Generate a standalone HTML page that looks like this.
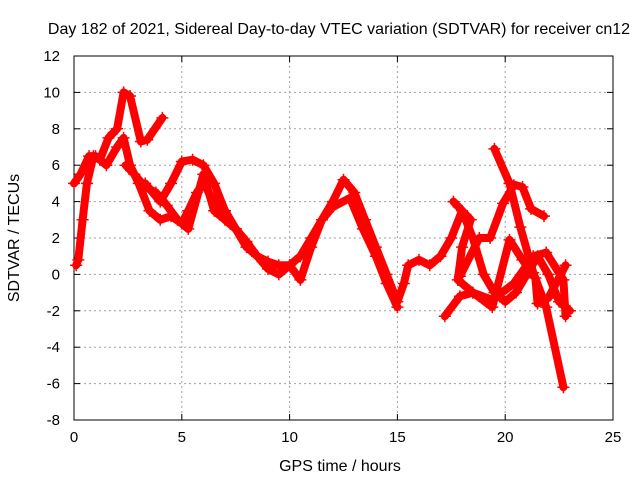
<!DOCTYPE html>
<html><head><meta charset="utf-8"><style>
body{margin:0;background:#fff;}
svg text{font-family:"Liberation Sans",sans-serif;font-size:15px;fill:#000;}
svg text.big{font-size:16px;}
</style></head><body>
<svg id="chart" width="640" height="480">
<rect width="640" height="480" fill="#fff"/>
<text class="big" x="339" y="34" text-anchor="middle">Day 182 of 2021, Sidereal Day-to-day VTEC variation (SDTVAR) for receiver cn12</text>
<text class="big" x="340" y="471" text-anchor="middle">GPS time / hours</text>
<text class="big" x="19" y="238" text-anchor="middle" transform="rotate(-90 19 238)">SDTVAR / TECUs</text>
<g id="grid"></g><g id="axes"></g><g id="series"></g>
</svg>
<script>
const xTicks=[0,5,10,15,20,25];
const yTicks=[-8,-6,-4,-2,0,2,4,6,8,10,12];
const t1=[0,0.3,0.7,1,1.5,2,2.3,2.6,3,3.5,4,4.5,5,5.3,5.7,6,6.5,7,7.5,8,8.5,9,9.5,10,10.5,11,11.5,12,12.5,13,13.5,14,14.5,15,15.3,15.5,16,16.5,17,17.5,18,18.5,19,19.5,20,20.5,21,21.5,22,22.5,23];
const v1=[5,5.5,6.5,6.5,6,7,7.5,6,5,3.5,3,3.2,2.8,3.5,4.5,5,4,3.5,2.5,1.8,1,0.7,0.5,0.5,1,2,3,4,5.2,4.5,3,1.5,0,-1.5,-0.5,0.5,0.8,0.5,1,2,3.5,2,0,-1,-1.5,-1,0,1,0,-1.5,-2];
const t2=[0.1,0.2,0.4,0.6,0.9,1.2,1.6,2.0,2.3,2.6,3.1,3.4,4.1];
const v2=[0.5,0.8,3,5,6.5,6.3,7.5,8,10,9.8,7.3,7.4,8.6];
const t3=[3.3,4,4.5,5,5.5,6,6.5,7,7.5,8,8.5,9,9.5,10,10.5,11,11.5,12,12.8,13.4,14,14.5,15];
const v3=[5,4,5,6.2,6.3,6,5,3.5,2.5,1.5,1,0.3,0,0.5,-0.3,1.5,3,3.7,4.2,2.5,1,-0.5,-1.8];
const t4=[2.4,2.8,3.3,3.8,4.3,4.8,5.3,6,6.5,7,7.5,8];
const v4=[6,5.5,4.8,4.5,3.8,3,2.5,5.5,3.5,3,2.5,1.8];
const t5=[17.2,17.9,18.5,19.4,20.4,21.3,21.9,22.7,22.8];
const v5=[-2.3,-1.2,-1,-1.4,-0.5,1,1.2,-0.3,-2.3];
const t6=[17.9,18.8,19.3,19.9,20.4,20.2,20.7,21.3,21.9,22.7];
const v6=[-0.1,2,2,3.9,4.9,5,2.6,0.1,-1.8,-6.2];
const t7=[19.5,20.2,20.8,21.2,21.8];
const v7=[6.9,5,4.8,3.6,3.2];
const t8=[17.6,18.4,18,17.8,18.5,19.4,20.2,20.8,21.4,21.5,22,22.8];
const v8=[4,3,1.5,-0.3,-1,-1.8,1.9,0.8,-0.2,-1.6,-1.3,0.5];
const tracks=[[t1,v1],[t2,v2],[t3,v3],[t4,v4],[t5,v5],[t6,v6],[t7,v7],[t8,v8]];
const X0=74,X1=613,Y0=420,Y1=56;
const xs=v=>X0+(v-0)/25*(X1-X0);
const ys=v=>Y0-(v+8)/20*(Y0-Y1);
const NS="http://www.w3.org/2000/svg";
const grid=document.getElementById('grid'),axes=document.getElementById('axes'),ser=document.getElementById('series');
function mk(tag,attrs,parent){const e=document.createElementNS(NS,tag);for(const k in attrs)e.setAttribute(k,attrs[k]);parent.appendChild(e);return e;}
xTicks.forEach(t=>{const x=xs(t);
 if(t>0&&t<25){const g=mk('line',{x1:x,x2:x,y1:Y1,y2:Y0,stroke:'#a0a0a0','stroke-dasharray':'2,3'},grid);
 
 }
 const lb=mk('text',{x:x,y:Y0+22,'text-anchor':'middle'},axes);lb.textContent=t;
 
 
 mk('line',{x1:x,x2:x,y1:Y0,y2:Y0-6,stroke:'#000'},axes);mk('line',{x1:x,x2:x,y1:Y1,y2:Y1+6,stroke:'#000'},axes);});
yTicks.forEach(t=>{const y=ys(t);
 if(t>-8&&t<12){const g=mk('line',{x1:X0,x2:X1,y1:y,y2:y,stroke:'#a0a0a0','stroke-dasharray':'2,3'},grid);
 
 }
 const lb=mk('text',{x:X0-14,y:y+5,'text-anchor':'end'},axes);lb.textContent=t;
 
 
 mk('line',{x1:X0,x2:X0+6,y1:y,y2:y,stroke:'#000'},axes);mk('line',{x1:X1,x2:X1-6,y1:y,y2:y,stroke:'#000'},axes);});
const fr=mk('rect',{x:X0,y:Y1,width:X1-X0,height:Y0-Y1,fill:'none',stroke:'#000'},axes);


tracks.forEach((tr,i)=>{const pts=tr[0].map((t,j)=>xs(t)+','+ys(tr[1][j])).join(' ');
 const p=mk('polyline',{points:pts,fill:'none',stroke:'#ff0000','stroke-width':8,'stroke-linejoin':'round','stroke-linecap':'round'},ser);
 
 
 tr[0].forEach((t,j)=>{const x=xs(t),y=ys(tr[1][j]);
  const m=mk('path',{d:`M${x-6},${y}h12M${x},${y-6}v12`,stroke:'#ff0000','stroke-width':1.5},ser);
  
  });});
</script>
</body></html>
